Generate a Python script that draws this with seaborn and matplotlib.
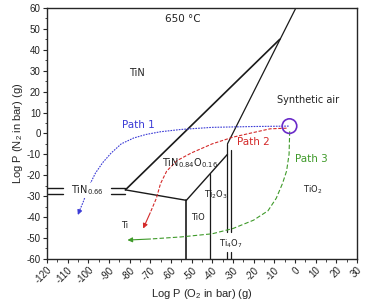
import numpy as np
import pandas as pd
import matplotlib
matplotlib.use("Agg")
import matplotlib.pyplot as plt
import seaborn as sns

# phase boundary lines (log pO2, log pN2)
steep_x = [0.5, -32.6]
steep_y = [60, -5]
upper_x = [-7.3, -82]
upper_y = [45, -27]
lower_x = [-82, -52.5, -32.6]
lower_y = [-27, -32, -10]
tio_ti_x = [-52.5, -52.5]
tio_ti_y = [-32, -60]
ti2o3_x = [-41, -41]
ti2o3_y = [-19.3, -60]
dbl_left_x = -32.6
dbl_right_x = -30.8
dbl_top = [-5, -8]
dbl_gap = [-47, -56.5]
tin066_y = [-26, -28.8]
tin066_left = [-120, -112]
tin066_right = [-89, -82]

# reaction paths
path1_x = [-3, -20, -40, -55, -65, -72, -78, -84, -89, -93, -96.5, -99, -101, -102.5, -104, -105]
path1_y = [3.5, 3.3, 2.9, 1.9, 0.8, -0.5, -2.2, -5, -9.5, -14, -19, -24, -29, -33, -36.5, -39]
path2_x = [-4, -12, -22, -30, -40, -50, -57, -62, -65, -67, -70, -73.4]
path2_y = [2.5, 2.2, 0, -1.8, -5, -9.3, -13, -18, -24, -31, -38, -45.5]
path3_x = [-2.5, -2.8, -4, -6, -9, -13, -20, -30, -40, -55, -70, -81]
path3_y = [1, -10, -18, -24, -31, -37, -41.5, -45.5, -48, -49.5, -50.5, -51]
air_x, air_y = -2.6, 3.5

sns.set_style("ticks")
plt.rcParams['font.family'] = ['Liberation Sans', 'DejaVu Sans']
plt.rcParams['mathtext.default'] = 'regular'
plt.rcParams['axes.unicode_minus'] = False

fig = plt.figure(figsize=(3.66, 3.06), dpi=100)
ax = fig.add_axes([0.128, 0.154, 0.847, 0.82])

def seg(x, y, lw=1.1, **kw):
    sns.lineplot(x=x, y=y, sort=False, estimator=None, color="#1a1a1a",
                 linewidth=lw, ax=ax, **kw)

seg(steep_x, steep_y, lw=0.9)
seg(upper_x, upper_y, lw=1.2)
seg(lower_x, lower_y, lw=1.0)
seg(tio_ti_x, tio_ti_y, lw=1.2)
seg(ti2o3_x, ti2o3_y, lw=0.9)
seg([dbl_left_x, dbl_left_x], [dbl_top[0], dbl_gap[0]], lw=0.9)
seg([dbl_right_x, dbl_right_x], [dbl_top[1], dbl_gap[0]], lw=0.9)
seg([dbl_left_x, dbl_left_x], [dbl_gap[1], -60], lw=0.9)
seg([dbl_right_x, dbl_right_x], [dbl_gap[1], -60], lw=0.9)
for yy in tin066_y:
    seg(tin066_left, [yy, yy], lw=1.0)
    seg(tin066_right, [yy, yy], lw=1.0)

paths = [(path1_x, path1_y, "#3b3bd6", (0, (1.5, 1))),
         (path2_x, path2_y, "#d42a2a", (0, (3, 1.5))),
         (path3_x, path3_y, "#3f9a2a", (0, (4, 2)))]
for px, py, col, ls in paths:
    sns.lineplot(x=px[:-1], y=py[:-1], sort=False, estimator=None, color=col,
                 linewidth=0.8, linestyle=ls, ax=ax)
    ax.annotate("", xy=(px[-1], py[-1]), xytext=(px[-2], py[-2]),
                arrowprops=dict(arrowstyle="-|>", color=col, lw=0.8,
                                mutation_scale=7, shrinkA=0, shrinkB=0))

sns.scatterplot(x=[air_x], y=[air_y], s=110, facecolor="none",
                edgecolor="#6a2bc9", linewidth=1.2, ax=ax, zorder=5)

txt = dict(fontsize=7, family=['DejaVu Sans'], ha="center", va="center",
           color="#222222")
ax.text(-54, 54.5, "650 °C", **{**txt, "fontsize": 7.5})
ax.text(-76.6, 28.8, "TiN", **txt)
ax.text(6.3, 16, "Synthetic air", **txt)
ax.text(-75.8, 4, "Path 1", **{**txt, "fontsize": 7.5, "color": "#3b3bd6"})
ax.text(-19.9, -4, "Path 2", **{**txt, "fontsize": 7.5, "color": "#d42a2a"})
ax.text(7.9, -12, "Path 3", **{**txt, "fontsize": 7.5, "color": "#3f9a2a"})
ax.text(8.7, -27, r"TiO$_2$", **{**txt, "fontsize": 6})
ax.text(-38.1, -29.5, r"Ti$_2$O$_3$", **{**txt, "fontsize": 6})
ax.text(-46.9, -40.2, "TiO", **{**txt, "fontsize": 6})
ax.text(-30.8, -53, r"Ti$_4$O$_7$", **{**txt, "fontsize": 6})
ax.text(-82.3, -44, "Ti", **{**txt, "fontsize": 6})
ax.text(-100.5, -27.2, r"TiN$_{0.66}$", zorder=6,
        bbox=dict(facecolor="white", edgecolor="none", pad=0.5), **txt)
ax.text(-50.8, -14.4, r"TiN$_{0.84}$O$_{0.16}$", **txt)

ax.set_xlim(-120, 30)
ax.set_ylim(-60, 60)
ax.set_xticks(np.arange(-120, 31, 10))
ax.set_yticks(np.arange(-60, 61, 10))
ax.set_xticks(np.arange(-115, 30, 10), minor=True)
ax.set_yticks(np.arange(-55, 60, 10), minor=True)
ax.tick_params(axis="both", which="major", labelsize=7, length=3, width=0.8,
               direction="out", pad=1.5, labelcolor="#222222")
ax.tick_params(axis="both", which="minor", length=1.8, width=0.6, direction="out")
plt.setp(ax.get_xticklabels(), rotation=45, ha="right", rotation_mode="anchor")
for s in ax.spines.values():
    s.set_visible(True)
    s.set_linewidth(1.0)
ax.set_xlabel(r"Log P (O$_2$ in bar) (g)", fontsize=8, labelpad=1)
ax.set_ylabel(r"Log P (N$_2$ in bar) (g)", fontsize=8, labelpad=1)

fig.savefig("out.png", dpi=100)
